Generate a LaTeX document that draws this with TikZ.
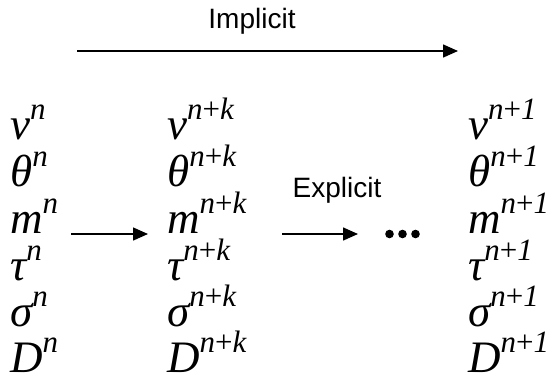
\documentclass[tikz,border=0pt]{standalone}
\usepackage{fontspec}
\usetikzlibrary{arrows.meta}
\newfontfamily\tmsfont{Liberation Serif}
\newfontfamily\arfont{Liberation Sans}
\newcommand\VV[2]{{\fontsize{45}{45}\selectfont\tmsfont\itshape #1}\raisebox{20pt}{\fontsize{31}{31}\selectfont\tmsfont\itshape #2}}
\newcommand\PL{\textup{+}}
\tikzset{
  var/.style={anchor=base west, inner sep=0pt},
  lastrow/.style={text depth=0pt},
  lbl/.style={anchor=base, inner sep=0pt, font=\fontsize{28}{28}\selectfont\arfont},
  arr/.style={line width=1.5pt, -{Triangle[length=15pt,width=13pt]}}
}
\begin{document}
\begin{tikzpicture}[x=1pt,y=1pt]
\useasboundingbox (0,0) rectangle (553,-378);
% column 1
\node[var] (a1) at (10,-139) {\VV{v}{n}};
\node[var] (a2) at (10,-186) {\VV{θ}{n}};
\node[var] (a3) at (10,-233) {\VV{m}{n}};
\node[var] (a4) at (10,-280) {\VV{τ}{n}};
\node[var] (a5) at (10,-326) {\VV{σ}{n}};
\node[var,lastrow] (a6) at (10,-372) {\VV{D}{n}};
% column 2
\node[var] (b1) at (167,-139) {\VV{v}{n\PL k}};
\node[var] (b2) at (167,-186) {\VV{θ}{n\PL k}};
\node[var] (b3) at (167,-233) {\VV{m}{n\PL k}};
\node[var] (b4) at (167,-280) {\VV{τ}{n\PL k}};
\node[var] (b5) at (167,-326) {\VV{σ}{n\PL k}};
\node[var,lastrow] (b6) at (167,-372) {\VV{D}{n\PL k}};
% column 3
\node[var] (c1) at (468,-139) {\VV{v}{n\PL 1}};
\node[var] (c2) at (468,-186) {\VV{θ}{n\PL 1}};
\node[var] (c3) at (468,-233) {\VV{m}{n\PL 1}};
\node[var] (c4) at (468,-280) {\VV{τ}{n\PL 1}};
\node[var] (c5) at (468,-326) {\VV{σ}{n\PL 1}};
\node[var,lastrow] (c6) at (468,-372) {\VV{D}{n\PL 1}};
% implicit arrow
\coordinate (i0) at (77,-51);
\coordinate (i1) at (458,-51);
\draw[arr] (i0) -- (i1);
\node[lbl] (impl) at (252,-28) {Implicit};
% explicit arrows
\coordinate (e0) at (71,-234);
\coordinate (e1) at (148,-234);
\draw[arr] (e0) -- (e1);
\coordinate (f0) at (282,-234);
\coordinate (f1) at (358,-234);
\draw[arr] (f0) -- (f1);
\node[lbl] (expl) at (337,-197) {Explicit};
% dots
\coordinate (dots) at (402.5,-234);
\fill ([xshift=-13pt]dots) circle (4.3pt);
\fill (dots) circle (4.3pt);
\fill ([xshift=13pt]dots) circle (4.3pt);
\end{tikzpicture}
\end{document}
